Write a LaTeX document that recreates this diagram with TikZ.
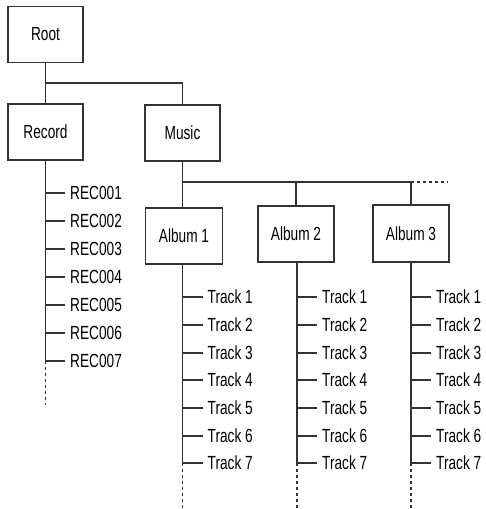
\documentclass[tikz,border=0pt]{standalone}
\usepackage{fontspec}
\usetikzlibrary{calc}
\setmainfont[FakeStretch=0.72]{Liberation Sans}
\begin{document}
\begin{tikzpicture}[x=1pt,y=-1pt,
  conn/.style={draw=black!80,line width=1.3pt},
  box/.style={draw=black!80,line width=1.3pt,minimum width=75pt,minimum height=56pt,inner sep=0pt,font=\fontsize{19}{22}\selectfont},
  leaf/.style={anchor=west,inner xsep=5pt,inner ysep=0pt,text height=13.6pt,text depth=0pt,font=\fontsize{19}{22}\selectfont},
  dots/.style={conn,dash pattern=on 3pt off 3pt}]
\useasboundingbox (0,0) rectangle (485,509);
\node[box] (root) at (45.5,34.5) {Root};
\node[box] (record) at (45.5,132) {Record};
\node[box] (music) at (182.5,133) {Music};
\node[box,minimum width=77pt] (a1) at (184,236) {Album 1};
\node[box,minimum width=76pt] (a2) at (296,234) {Album 2};
\node[box,minimum width=76pt,minimum height=57pt] (a3) at (411,233.5) {Album 3};
\coordinate (j1) at (45.5,83);
\coordinate (j2) at (182.5,182);
\coordinate (jend) at (448,182);
\draw[conn] (root.south) -- (record.north);
\draw[conn] (j1) -| (music.north);
\draw[conn] (music.south) -- (music.south |- a1.north);
\draw[conn] (j2) -| (a2.north);
\draw[conn] (j2) -| (a3.north);
\draw[dots] (a3.north |- j2) -- (jend);
% records
\foreach \i/\y in {1/193,2/221,3/249,4/277,5/305,6/333,7/361}{
  \node[leaf] (rec\i) at (65,\y) {REC00\i};
  \coordinate (rs\i) at (45.5,\y);
  \draw[conn] (rs\i) -- (rec\i.west);
}
\coordinate (rend) at (45.5,405);
\draw[conn] (record.south) -- (rs7);
\draw[dots] (rs7) -- (rend);
% tracks
\foreach \a/\x in {1/182.5,2/297,3/411}{
  \foreach \i/\y in {1/297,2/325,3/353,4/380,5/408,6/436,7/463}{
    \coordinate (s\a\i) at (\x,\y);
    \node[leaf] (t\a\i) at ($(\x,\y)+(20,0)$) {Track \i};
    \draw[conn] (s\a\i) -- (t\a\i.west);
  }
  \coordinate (e\a) at (\x,509);
  \draw[conn] (a\a.south -| s\a1) -- (s\a7);
  \draw[dots] (s\a7) -- (e\a);
}
\end{tikzpicture}
\end{document}
